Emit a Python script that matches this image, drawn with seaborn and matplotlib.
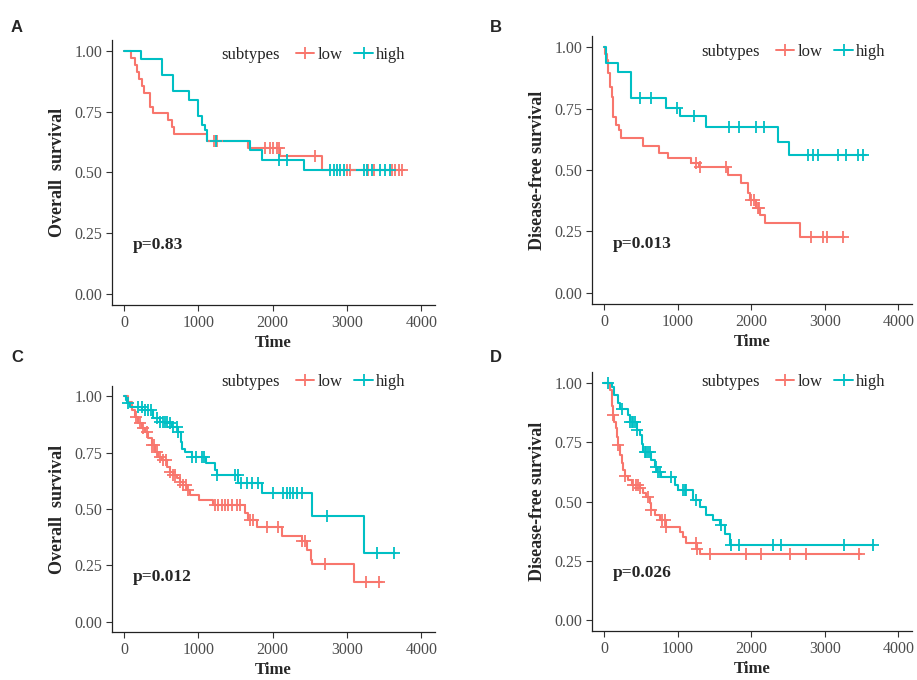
import numpy as np
import pandas as pd
import matplotlib
matplotlib.use('Agg')
import matplotlib.pyplot as plt
from matplotlib.lines import Line2D
import seaborn as sns

# ---- data (time in days, survival probability) ----
# A: overall survival
a_low_t = [0, 90, 150, 175, 205, 238, 262, 350, 385, 598, 640, 675, 1115, 1675, 2100, 2660, 3760]
a_low_s = [1.0, 0.971, 0.943, 0.914, 0.886, 0.857, 0.829, 0.771, 0.743, 0.714, 0.686, 0.657, 0.628, 0.600, 0.566, 0.510, 0.510]
a_low_cens = [1210, 1250, 1900, 1960, 2010, 2055, 2080, 2570, 3000, 3045, 3290, 3360, 3600, 3650, 3695, 3740]
a_high_t = [0, 224, 507, 655, 875, 1000, 1046, 1091, 1113, 1697, 1854, 2418, 3620]
a_high_s = [1.0, 0.968, 0.899, 0.834, 0.797, 0.731, 0.697, 0.676, 0.628, 0.594, 0.550, 0.511, 0.511]
a_high_cens = [1240, 2080, 2190, 2775, 2820, 2865, 2910, 2955, 3225, 3270, 3335, 3450, 3515, 3585]

# B: disease-free survival
b_low_t = [0, 14, 36, 59, 81, 104, 126, 163, 208, 226, 533, 745, 872, 1189, 1290, 1690, 1866,
           1957, 1980, 2070, 2115, 2192, 2667, 3268]
b_low_s = [1.0, 0.973, 0.947, 0.893, 0.839, 0.798, 0.717, 0.683, 0.663, 0.630, 0.598, 0.571, 0.547,
           0.530, 0.514, 0.480, 0.446, 0.405, 0.378, 0.344, 0.317, 0.286, 0.226, 0.226]
b_low_cens = [1247, 1300, 1665, 2000, 2045, 2090, 2110, 2815, 2975, 3030, 3245]
b_high_t = [0, 27, 194, 361, 850, 1030, 1392, 2364, 2508, 3562]
b_high_s = [1.0, 0.934, 0.897, 0.791, 0.753, 0.720, 0.673, 0.615, 0.561, 0.561]
b_high_cens = [488, 646, 994, 1220, 1700, 1835, 2061, 2170, 2771, 2838, 2906, 3178, 3290, 3449, 3516]

# C: overall survival
c_low_t = [0, 58, 103, 148, 193, 238, 283, 328, 373, 417, 462, 507, 575, 619, 664, 709, 754, 799,
           844, 889, 1015, 1203, 1630, 1675, 1787, 2124, 2393, 2460, 2514, 2530, 3089, 3471]
c_low_s = [1.0, 0.975, 0.938, 0.909, 0.879, 0.857, 0.842, 0.813, 0.783, 0.754, 0.732, 0.717, 0.687,
           0.665, 0.650, 0.636, 0.621, 0.606, 0.584, 0.562, 0.540, 0.518, 0.481, 0.451, 0.422, 0.381,
           0.356, 0.319, 0.274, 0.257, 0.175, 0.175]
c_low_cens = [161, 215, 260, 314, 373, 404, 440, 485, 530, 565, 619, 664, 691, 754, 799, 835, 866,
              1225, 1270, 1315, 1360, 1405, 1450, 1517, 1562, 1697, 1732, 1921, 2078, 2400, 2430,
              2707, 3259, 3425]
c_high_t = [0, 20, 36, 81, 240, 386, 485, 600, 642, 732, 763, 777, 821, 911, 1104, 1225, 1257,
            1540, 1854, 2527, 3223, 3650]
c_high_s = [1.0, 0.982, 0.968, 0.953, 0.938, 0.901, 0.886, 0.879, 0.864, 0.842, 0.798, 0.768, 0.754,
            0.732, 0.702, 0.673, 0.650, 0.614, 0.569, 0.469, 0.307, 0.307]
c_high_cens = [58, 193, 238, 283, 328, 359, 440, 485, 521, 552, 584, 619, 664, 709, 732, 911, 969,
               1045, 1077, 1257, 1494, 1530, 1571, 1652, 1719, 1809, 2011, 2146, 2191, 2236, 2280,
               2325, 2393, 2729, 3403, 3628]

# D: disease-free survival
d_low_t = [0, 81, 104, 115, 126, 140, 163, 180, 194, 217, 240, 262, 285, 330, 375, 488, 533, 578,
           624, 646, 691, 759, 850, 1030, 1076, 1121, 1266, 1302, 3494]
d_low_s = [1.0, 0.969, 0.934, 0.900, 0.866, 0.836, 0.808, 0.770, 0.737, 0.695, 0.660, 0.632, 0.607,
           0.590, 0.569, 0.555, 0.534, 0.520, 0.492, 0.463, 0.442, 0.421, 0.393, 0.372, 0.351, 0.326,
           0.302, 0.281, 0.281]
d_low_cens = [130, 194, 285, 398, 434, 465, 488, 601, 646, 795, 827, 850, 1247, 1266, 1437, 1934,
              2138, 2522, 2739, 3462]
d_high_t = [0, 104, 136, 194, 217, 330, 352, 443, 488, 511, 533, 646, 691, 720, 782, 963, 1008,
            1211, 1302, 1392, 1482, 1573, 1641, 1708, 3675]
d_high_s = [1.0, 0.983, 0.948, 0.913, 0.888, 0.864, 0.836, 0.801, 0.779, 0.744, 0.709, 0.674, 0.646,
            0.625, 0.604, 0.569, 0.548, 0.506, 0.478, 0.442, 0.421, 0.400, 0.365, 0.316, 0.316]
d_high_cens = [59, 240, 352, 375, 398, 420, 443, 556, 578, 601, 624, 714, 737, 759, 917, 1076, 1098,
               1121, 1256, 1595, 1731, 1835, 2296, 2409, 3268, 3660]

panel_letters = ['A', 'B', 'C', 'D']
y_labels = ['Overall  survival', 'Disease-free survival', 'Overall  survival', 'Disease-free survival']
p_values = ['p=0.83', 'p=0.013', 'p=0.012', 'p=0.026']
x_ticks = [0, 1000, 2000, 3000, 4000]
y_ticks = [0.00, 0.25, 0.50, 0.75, 1.00]
group_names = ['low', 'high']

LOW_COL = '#F8766D'
HIGH_COL = '#00BFC4'

sns.set_theme(style='ticks')
plt.rcParams['font.family'] = ['Liberation Serif', 'DejaVu Serif']

W, H = 917, 680
fig = plt.figure(figsize=(W / 100, H / 100), dpi=100)


def px_box(l, t, r, b):
    return [l / W, 1 - b / H, (r - l) / W, (b - t) / H]


# axes boxes in pixels (left, top, right, bottom) and legend anchor pixels
boxes = [(112, 40, 435, 305), (592, 36, 912, 304), (112, 386, 435, 632), (592, 372, 912, 631)]
legend_px = [(221, 55), (701, 52), (221, 382), (701, 382)]
letter_px = [(17, 27), (496, 27), (17, 358), (496, 358)]

panels = [
    (a_low_t, a_low_s, a_low_cens, a_high_t, a_high_s, a_high_cens),
    (b_low_t, b_low_s, b_low_cens, b_high_t, b_high_s, b_high_cens),
    (c_low_t, c_low_s, c_low_cens, c_high_t, c_high_s, c_high_cens),
    (d_low_t, d_low_s, d_low_cens, d_high_t, d_high_s, d_high_cens),
]

for i, data in enumerate(panels):
    ax = fig.add_axes(px_box(*boxes[i]))
    lt, ls, lc, ht, hs, hc = data
    curves = [(lt, ls, lc, LOW_COL), (ht, hs, hc, HIGH_COL)]
    for t, s, c, col in curves:
        sns.lineplot(x=t, y=s, drawstyle='steps-post', color=col, lw=1.5,
                     estimator=None, sort=False, ax=ax)
    for t, s, c, col in curves:
        ys = np.asarray(s)[np.searchsorted(t, c, side='right') - 1]
        sns.scatterplot(x=c, y=ys, marker='+', s=75, linewidth=1.3, color=col,
                        ax=ax, zorder=3, legend=False)

    ax.set_xlim(-162, 4185)
    ax.set_ylim(-0.045, 1.045)
    ax.set_xticks(x_ticks)
    ax.set_yticks(y_ticks)
    ax.set_yticklabels(['%.2f' % v for v in y_ticks])
    ax.tick_params(length=4, width=0.8, color='#333333', labelcolor='#4d4d4d',
                   labelsize=11.5, pad=3)
    for sp in ['left', 'bottom']:
        ax.spines[sp].set_linewidth(0.9)
        ax.spines[sp].set_color('#222222')
    sns.despine(ax=ax)

    ax.set_xlabel('Time', fontsize=12, fontweight='bold', labelpad=3)
    ax.set_ylabel(y_labels[i], fontsize=13, fontweight='bold', labelpad=6)

    ax.text(120, 0.2, p_values[i], fontsize=12.5, fontweight='bold', ha='left', va='center')

    # legend: title text + two keys in a row
    lx, ly = legend_px[i]
    fig.text(lx / W, 1 - ly / H, 'subtypes', fontsize=12, ha='left', va='center', color='#222222')
    handles = [Line2D([0], [0], color=LOW_COL, lw=1.4, marker='+', markersize=8, mew=1.3),
               Line2D([0], [0], color=HIGH_COL, lw=1.4, marker='+', markersize=8, mew=1.3)]
    ax.legend(handles, group_names, loc='center left', ncol=2, frameon=False,
              bbox_to_anchor=((lx + 75) / W, 1 - ly / H), bbox_transform=fig.transFigure,
              fontsize=12, handlelength=1.1, handletextpad=0.2, columnspacing=0.7,
              borderpad=0, borderaxespad=0)

    fx, fy = letter_px[i]
    fig.text(fx / W, 1 - fy / H, panel_letters[i], fontsize=12, fontweight='bold',
             family=['Liberation Sans', 'DejaVu Sans'], ha='center', va='center')

fig.savefig('out.png', dpi=100, facecolor='white')
